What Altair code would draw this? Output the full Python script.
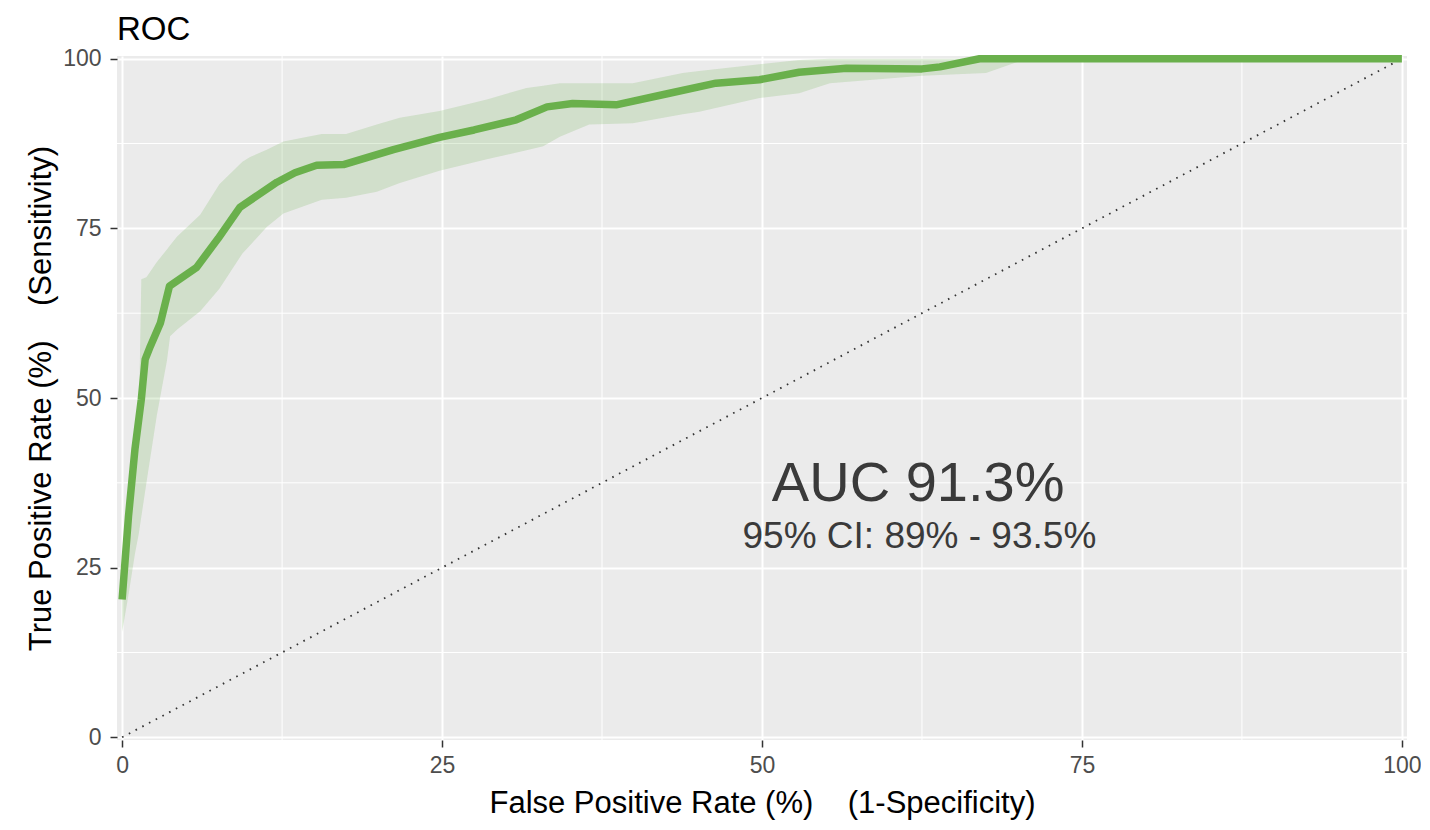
import altair as alt
import pandas as pd

# ---- data ----
roc_fpr = [0, 0.5, 1.0, 1.5, 1.8, 2.2, 3.0, 3.7, 5.8, 7.5, 9.2, 12.1, 13.5, 15.2, 17.3,
           21.2, 24.8, 27.5, 30.8, 33.2, 35.2, 38.6, 42.5, 46.4, 49.8, 52.9, 56.6, 62.5,
           63.9, 67.0, 100]
roc_tpr = [20.3, 32.6, 42.4, 49.8, 55.7, 57.6, 61.1, 66.5, 69.2, 73.5, 78.1, 81.8, 83.2,
           84.3, 84.4, 86.6, 88.4, 89.5, 91.0, 92.9, 93.4, 93.2, 94.8, 96.4, 96.9, 98.0,
           98.6, 98.5, 98.8, 100, 100]

band_fpr = [0, 0.5, 1.0, 1.3, 1.5, 1.9, 2.7, 3.5, 3.75, 4.3, 6.1, 7.6, 9.4, 10, 11.3,
            12.6, 15.6, 17.5, 19.9, 21.7, 24.8, 28.5, 31.6, 32.9, 34.2, 36.5, 39.9, 43.8,
            45.1, 49.8, 52.9, 55.3, 62.5, 67.5, 70.1, 71.0, 100]
band_lo = [15.5, 21, 27, 30, 32.5, 37.5, 47.3, 55.5, 59.1, 60.1, 62.8, 66.1, 71.3, 72.5,
           75.2, 77.2, 79.2, 79.5, 80.4, 81.7, 83.5, 85.2, 86.5, 87.1, 88.5, 90.3, 90.5,
           91.8, 92.2, 94.2, 94.9, 96.4, 97.5, 97.9, 99.6, 100, 100]
band_hi = [21, 33, 43, 46, 67.5, 67.8, 70, 71.9, 72.5, 73.8, 77, 81.5, 84.8, 85.5, 86.6,
           87.8, 88.9, 88.9, 90.3, 91.3, 92.3, 94.0, 95.7, 96.0, 96.4, 96.4, 96.4, 97.9,
           98.2, 99.2, 99.8, 100, 100, 100, 100, 100, 100]

diag_fpr = [0, 100]
diag_tpr = [0, 100]

major_ticks = [0, 25, 50, 75, 100]
minor_ticks = [12.5, 37.5, 62.5, 87.5]

ann_labels = ["AUC 91.3%", "95% CI: 89% - 93.5%"]
ann_x = [62.2, 62.3]
ann_y = [37.3, 29.5]
ann_size = [56, 37]

title_text = "ROC"
x_title = "False Positive Rate (%)\u00a0\u00a0\u00a0\u00a0(1-Specificity)"
y_title = "True Positive Rate (%)\u00a0\u00a0\u00a0\u00a0(Sensitivity)"

# ---- tables ----
roc_df = pd.DataFrame({"fpr": roc_fpr, "tpr": roc_tpr})
band_df = pd.DataFrame({"fpr": band_fpr, "lo": band_lo, "hi": band_hi})
diag_df = pd.DataFrame({"fpr": diag_fpr, "tpr": diag_tpr})
minor_df = pd.DataFrame({"v": minor_ticks})
ann_df = pd.DataFrame({"fpr": ann_x, "tpr": ann_y, "label": ann_labels, "size": ann_size})

FONT = "Liberation Sans"
GREEN = "#6AB04C"

xscale = alt.Scale(domain=[-0.4, 100.4], nice=False, zero=False)
yscale = alt.Scale(domain=[-0.4, 100.4], nice=False, zero=False)

xaxis = alt.Axis(values=major_ticks, title=x_title, titleBaseline="alphabetic",
                 titleY=72, labelPadding=7, labelFlush=False)
yaxis = alt.Axis(values=major_ticks, title=y_title, titleBaseline="alphabetic",
                 titleX=-67, titleY=342, titleAngle=-90, labelPadding=9)


def X(field):
    return alt.X(field, type="quantitative", scale=xscale, axis=xaxis)


def Y(field):
    return alt.Y(field, type="quantitative", scale=yscale, axis=yaxis)


minor_v = alt.Chart(minor_df).mark_rule(color="white", strokeWidth=1).encode(x=X("v"))
minor_h = alt.Chart(minor_df).mark_rule(color="white", strokeWidth=1).encode(y=Y("v"))

band = alt.Chart(band_df).mark_area(color=GREEN, opacity=0.2, interpolate="linear").encode(
    x=X("fpr"), y=Y("lo"), y2="hi"
)

diag = alt.Chart(diag_df).mark_line(
    color="#333333", strokeWidth=1.8, strokeDash=[1.6, 6.0]
).encode(x=X("fpr"), y=Y("tpr"))

line = alt.Chart(roc_df).mark_line(
    color=GREEN, strokeWidth=7.5, strokeJoin="round", strokeCap="butt"
).encode(x=X("fpr"), y=Y("tpr"), order=alt.Order("fpr:Q"))

ann = alt.Chart(ann_df).mark_text(
    font=FONT, color="#3a3a3a", align="center", baseline="middle"
).encode(
    x=X("fpr"), y=Y("tpr"), text="label:N",
    size=alt.Size("size:Q", scale=None, legend=None),
)

chart = alt.layer(minor_v, minor_h, band, diag, line, ann).properties(
    width=1290,
    height=684,
    title=alt.TitleParams(title_text, anchor="start", frame="group", fontSize=33,
                          font=FONT, fontWeight="normal", color="black", offset=1),
    autosize=alt.AutoSizeParams(type="none"),
    padding={"left": 109, "top": 48, "right": 14, "bottom": 81},
).configure_view(
    fill="#EBEBEB", stroke=None
).configure_axis(
    grid=True, gridColor="white", gridWidth=2, domain=False,
    tickColor="#333333", tickSize=7, tickWidth=1.5,
    labelFont=FONT, labelFontSize=23, labelColor="#4D4D4D",
    titleFont=FONT, titleFontSize=31, titleFontWeight="normal", titleColor="black",
)

chart.save("out.html", embed_options={"renderer": "svg", "actions": False})
